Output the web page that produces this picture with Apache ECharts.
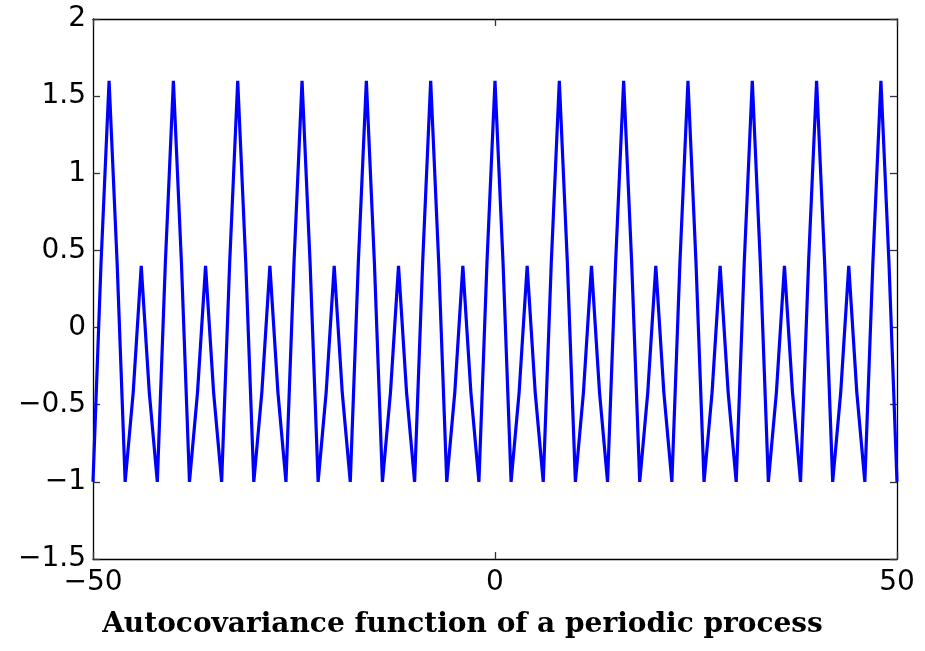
<!DOCTYPE html>
<html>
<head>
<meta charset="utf-8">
<script src="https://cdn.jsdelivr.net/npm/echarts@6/dist/echarts.min.js"></script>
<style>
html,body{margin:0;padding:0;background:#fff;}
#c{width:925px;height:651px;}
</style>
</head>
<body>
<div id="c"></div>
<script>
// lags from -50 to 50
const lags = [];
for (let h = -50; h <= 50; h++) lags.push(h);
// autocovariance values (lag -50 ... 50)
const acov = [
  -1, 0.42, 1.6, 0.42, -1, -0.42, 0.4, -0.42,
  -1, 0.42, 1.6, 0.42, -1, -0.42, 0.4, -0.42,
  -1, 0.42, 1.6, 0.42, -1, -0.42, 0.4, -0.42,
  -1, 0.42, 1.6, 0.42, -1, -0.42, 0.4, -0.42,
  -1, 0.42, 1.6, 0.42, -1, -0.42, 0.4, -0.42,
  -1, 0.42, 1.6, 0.42, -1, -0.42, 0.4, -0.42,
  -1, 0.42, 1.6, 0.42, -1, -0.42, 0.4, -0.42,
  -1, 0.42, 1.6, 0.42, -1, -0.42, 0.4, -0.42,
  -1, 0.42, 1.6, 0.42, -1, -0.42, 0.4, -0.42,
  -1, 0.42, 1.6, 0.42, -1, -0.42, 0.4, -0.42,
  -1, 0.42, 1.6, 0.42, -1, -0.42, 0.4, -0.42,
  -1, 0.42, 1.6, 0.42, -1, -0.42, 0.4, -0.42,
  -1, 0.42, 1.6, 0.42, -1
];
const xTicks = [-50, 0, 50];
const yTicks = [-1.5, -1, -0.5, 0, 0.5, 1, 1.5, 2];
const titleText = 'Autocovariance function of a periodic process';

const fmt = v => String(v).replace('-', '\u2212');
const labelFont = {color:'#000', fontFamily:'DejaVu Sans, sans-serif', fontSize:28};
const axisLine = {show:true, onZero:false, lineStyle:{color:'#000', width:1.3}};
const tick = {show:true, inside:true, length:7, lineStyle:{color:'#333', width:1.3}};

const chart = echarts.init(document.getElementById('c'), null, {renderer:'canvas'});
chart.setOption({
  animation:false,
  backgroundColor:'#fff',
  title:{
    text:titleText, left:'center', top:606,
    textStyle:{fontFamily:'DejaVu Serif, serif', fontWeight:'bold', fontSize:28, color:'#000'}
  },
  grid:{left:93, right:28, top:19, bottom:92, containLabel:false},
  xAxis:[
    {type:'value', min:xTicks[0], max:xTicks[xTicks.length-1], interval:50, position:'bottom',
     axisLine, axisTick:tick, splitLine:{show:false},
     axisLabel:{...labelFont, margin:10, formatter:fmt}},
    {type:'value', min:xTicks[0], max:xTicks[xTicks.length-1], interval:50, position:'top',
     axisLine, axisTick:tick, splitLine:{show:false}, axisLabel:{show:false}}
  ],
  yAxis:[
    {type:'value', min:yTicks[0], max:yTicks[yTicks.length-1], interval:0.5, position:'left',
     axisLine, axisTick:tick, splitLine:{show:false},
     axisLabel:{...labelFont, margin:7, formatter:fmt}},
    {type:'value', min:yTicks[0], max:yTicks[yTicks.length-1], interval:0.5, position:'right',
     axisLine, axisTick:tick, splitLine:{show:false}, axisLabel:{show:false}}
  ],
  series:[{
    type:'line', xAxisIndex:0, yAxisIndex:0,
    data: lags.map((h,i)=>[h, acov[i]]),
    showSymbol:false, symbol:'none',
    lineStyle:{color:'#0000ff', width:3.2, join:'miter'},
    clip:true
  }]
});
</script>
</body>
</html>
